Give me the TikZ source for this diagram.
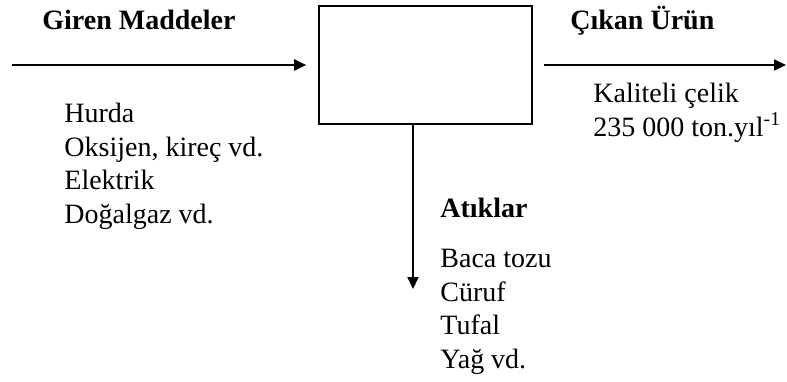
\documentclass[tikz,border=0pt]{standalone}
\usepackage{fontspec}
\setmainfont{Liberation Serif}
\usetikzlibrary{arrows.meta,positioning}

\begin{document}
\begin{tikzpicture}[
    x=0.5pt, y=-0.5pt,
    furnacebox/.style={rectangle, draw, line width=0.8pt, minimum width=106.5pt,
                minimum height=59pt, inner sep=0pt},
    heading/.style={anchor=base west, inner sep=0pt, font=\fontsize{14}{16.75}\selectfont\bfseries},
    itemlist/.style={anchor=north west, inner sep=0pt, align=left,
                font=\fontsize{14}{16.75}\selectfont},
    arrow/.style={-{Triangle[length=6pt,width=5.5pt]}, line width=1pt}
]
\useasboundingbox (0,0) rectangle (787,381);

\node[furnacebox] (furnace) at (425.5,65) {};
\coordinate (inlet) at (12,65);
\coordinate (outlet) at (786,65);
\coordinate (waste) at (413,289);

\node[heading] (giren) at (42,29) {Giren Maddeler};
\node[heading] (cikan) at (570,29) {Çıkan Ürün};
\node[heading] (atik) at (440,217) {Atıklar};

\node[itemlist] (inputs) at (64,103) {Hurda\\Oksijen, kireç vd.\\Elektrik\\Doğalgaz vd.};
\node[itemlist] (product) at (593,83) {Kaliteli çelik\\235 000 ton.yıl\textsuperscript{-1}};
\node[itemlist] (wastes) at (440,249) {Baca tozu\\Cüruf\\Tufal\\Yağ vd.};

\draw[arrow, shorten >=6pt] (inlet) -- (furnace);
\draw[arrow, shorten <=5.5pt] (furnace) -- (outlet);
\draw[arrow] (furnace.south -| waste) -- (waste);
\end{tikzpicture}
\end{document}
